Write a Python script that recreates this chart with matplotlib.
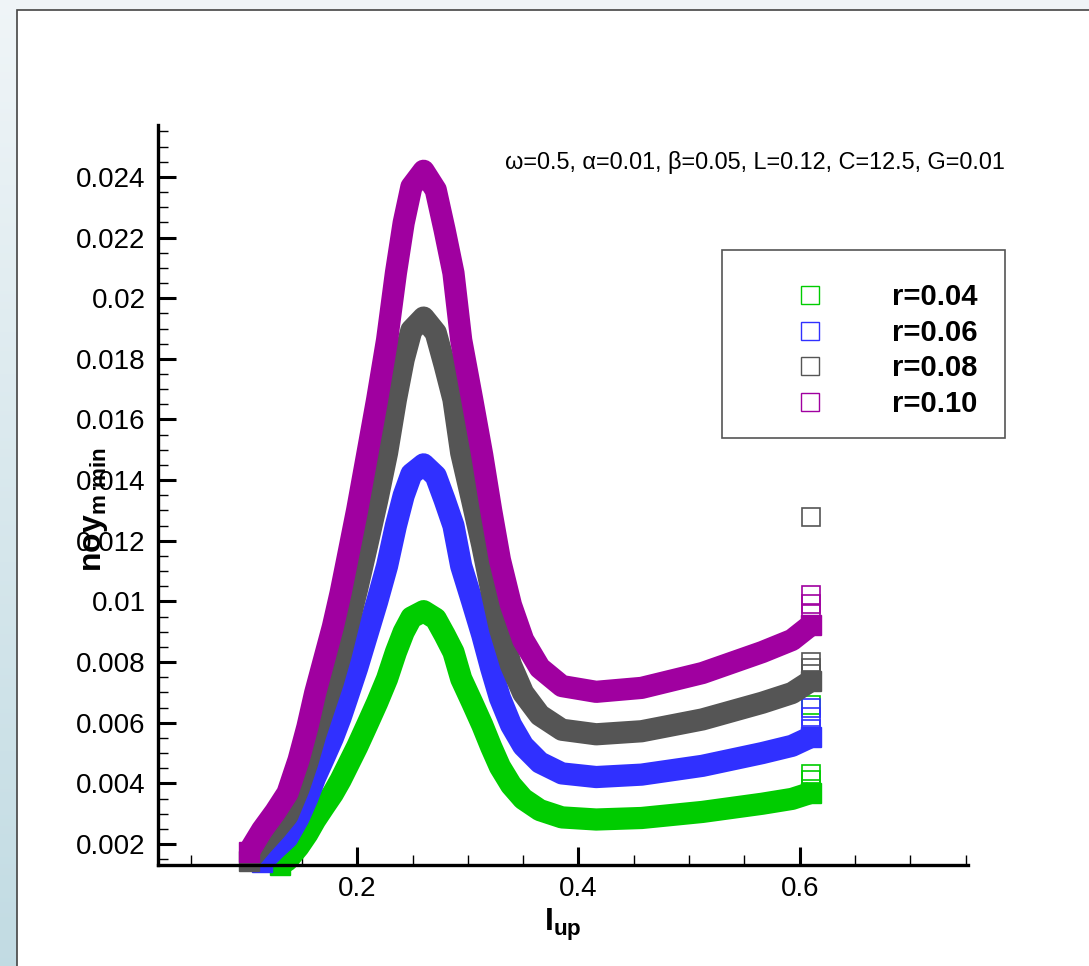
import numpy as np
import matplotlib
matplotlib.use('Agg')
import matplotlib.pyplot as plt
from matplotlib.lines import Line2D
from matplotlib.patches import Rectangle
from matplotlib.ticker import MultipleLocator, FuncFormatter

plt.rcParams['font.family'] = ['Liberation Sans', 'DejaVu Sans']
plt.rcParams['mathtext.fontset'] = 'custom'
plt.rcParams['mathtext.rm'] = 'Liberation Sans'
plt.rcParams['mathtext.bf'] = 'Liberation Sans:bold'

# curve points (centres of the square markers)
l_up_r10 = [0.102, 0.114, 0.126, 0.137, 0.147, 0.155, 0.162, 0.170, 0.178, 0.185,
            0.191, 0.200, 0.209, 0.218, 0.227, 0.235, 0.242, 0.249, 0.260, 0.271,
            0.279, 0.287, 0.294, 0.304, 0.313, 0.321, 0.329, 0.339, 0.350, 0.365,
            0.385, 0.416, 0.457, 0.512, 0.566, 0.593, 0.610]
y_r10 = [0.00174, 0.00246, 0.00306, 0.00368, 0.00477, 0.00586, 0.00698, 0.00807, 0.00916, 0.01028,
         0.01137, 0.01302, 0.01483, 0.01665, 0.01862, 0.02083, 0.02248, 0.02367, 0.02420, 0.02357,
         0.02225, 0.02083, 0.01862, 0.01665, 0.01483, 0.01302, 0.01137, 0.00988, 0.00873, 0.00781,
         0.00721, 0.00702, 0.00715, 0.00764, 0.00833, 0.00873, 0.00922]

l_up_r08 = l_up_r10
y_r08 = [0.00145, 0.00197, 0.00245, 0.00294, 0.00382, 0.00469, 0.00558, 0.00646, 0.00733, 0.00822,
         0.00910, 0.01042, 0.01186, 0.01332, 0.01490, 0.01666, 0.01798, 0.01894, 0.01936, 0.01886,
         0.01780, 0.01666, 0.01490, 0.01332, 0.01186, 0.01042, 0.00910, 0.00790, 0.00698, 0.00625,
         0.00577, 0.00562, 0.00572, 0.00611, 0.00666, 0.00698, 0.00738]

l_up_r06 = [0.114, 0.126, 0.137, 0.147, 0.155, 0.162, 0.170, 0.178, 0.185,
            0.191, 0.200, 0.209, 0.218, 0.227, 0.235, 0.242, 0.249, 0.260, 0.271,
            0.279, 0.287, 0.294, 0.304, 0.313, 0.321, 0.329, 0.339, 0.350, 0.365,
            0.385, 0.416, 0.457, 0.512, 0.566, 0.593, 0.610]
y_r06 = [0.00140, 0.00184, 0.00221, 0.00286, 0.00352, 0.00419, 0.00484, 0.00550, 0.00617,
         0.00682, 0.00781, 0.00890, 0.00999, 0.01117, 0.01250, 0.01349, 0.01420, 0.01452, 0.01414,
         0.01335, 0.01250, 0.01117, 0.00999, 0.00890, 0.00781, 0.00682, 0.00593, 0.00524, 0.00469,
         0.00433, 0.00421, 0.00429, 0.00458, 0.00500, 0.00524, 0.00553]

l_up_r04 = [0.130, 0.137, 0.147, 0.155, 0.162, 0.170, 0.178, 0.185,
            0.191, 0.200, 0.209, 0.218, 0.227, 0.235, 0.242, 0.249, 0.260, 0.271,
            0.279, 0.287, 0.294, 0.304, 0.313, 0.321, 0.329, 0.339, 0.350, 0.365,
            0.385, 0.416, 0.457, 0.512, 0.566, 0.593, 0.610]
y_r04 = [0.00130, 0.00147, 0.00191, 0.00234, 0.00279, 0.00323, 0.00366, 0.00411,
         0.00455, 0.00521, 0.00593, 0.00666, 0.00745, 0.00833, 0.00899, 0.00947, 0.00968, 0.00943,
         0.00890, 0.00833, 0.00745, 0.00666, 0.00593, 0.00521, 0.00455, 0.00395, 0.00349, 0.00312,
         0.00288, 0.00281, 0.00286, 0.00306, 0.00333, 0.00349, 0.00369]

# loose squares stacked at the right end (l_up = 0.61)
tail_l_up = 0.61
tail_r10 = [0.0096, 0.0099, 0.0102]
tail_r08 = [0.0076, 0.0078, 0.0080, 0.0128]
tail_r06 = [0.0058, 0.0062, 0.0065]
tail_r04 = [0.0038, 0.0041, 0.0043, 0.0066]

labels = ['r=0.04', 'r=0.06', 'r=0.08', 'r=0.10']
colors = ['#00cc00', '#3030ff', '#555555', '#a000a0']
series = [(l_up_r04, y_r04, tail_r04), (l_up_r06, y_r06, tail_r06),
          (l_up_r08, y_r08, tail_r08), (l_up_r10, y_r10, tail_r10)]

W, H = 1089, 966
fig = plt.figure(figsize=(W / 100, H / 100), dpi=100)

# page background: blue-grey gradient with a white framed sheet
bg = fig.add_axes([0, 0, 1, 1], zorder=-10)
bg.set_xlim(0, W)
bg.set_ylim(H, 0)
bg.axis('off')
top = np.array([0.94, 0.96, 0.97])
bot = np.array([0.76, 0.86, 0.89])
t = np.linspace(0, 1, 256)[:, None, None]
grad = (top + (bot - top) * t).reshape(256, 1, 3)
bg.imshow(grad, extent=[0, W, H, 0], aspect='auto')
bg.add_patch(Rectangle((17, 10), W, H, facecolor='white', edgecolor='#444444', lw=1.2))

ax = fig.add_axes([158 / W, 1 - 865 / H, 810 / W, 740 / H])
ax.patch.set_alpha(0)
for (xs, ys, tail), c in zip(series, colors):
    ax.plot(xs, ys, '-', color=c, lw=16, solid_joinstyle='round', solid_capstyle='butt',
            marker='s', ms=15, mfc=c, mec=c, markevery=[0, -1], clip_on=False)
    ax.plot(np.full(len(tail), tail_l_up), tail, ls='none', marker='s', ms=13,
            mfc='none', mec=c, mew=1.2, clip_on=False)

ax.set_xlim(0.02, 0.752)
ax.set_ylim(0.00131, 0.02571)
for s in ['top', 'right']:
    ax.spines[s].set_visible(False)
for s in ['left', 'bottom']:
    ax.spines[s].set_linewidth(2.4)
ax.xaxis.set_major_locator(MultipleLocator(0.2))
ax.xaxis.set_minor_locator(MultipleLocator(0.05))
ax.yaxis.set_major_locator(MultipleLocator(0.002))
ax.yaxis.set_minor_locator(MultipleLocator(0.0005))
ax.yaxis.set_major_formatter(FuncFormatter(lambda v, p: '%g' % round(v, 4)))
ax.xaxis.set_major_formatter(FuncFormatter(lambda v, p: '%g' % round(v, 3)))
ax.tick_params(which='major', direction='in', length=13, width=2.2, labelsize=20, pad=9)
ax.tick_params(which='minor', direction='in', length=7, width=1)
ax.tick_params(axis='x', which='major', pad=8)

ax.set_xlabel(r'$\mathbf{I}_{\mathbf{up}}$', fontsize=23, labelpad=3)
fig.text(95 / W, 1 - 510 / H, r'$\mathbf{noy}_{\mathbf{m\ min}}$', rotation=90,
         ha='center', va='center', fontsize=23)

fig.text(505 / W, 1 - 163 / H, u'\u03c9=0.5, \u03b1=0.01, \u03b2=0.05, L=0.12, C=12.5, G=0.01',
         ha='left', va='center', fontsize=16.9)

# legend
fig.add_artist(Rectangle((722 / W, 1 - 438 / H), 283 / W, 188 / H, transform=fig.transFigure,
                         facecolor='white', edgecolor='#555555', lw=1.2, zorder=5))
handles = [Line2D([], [], ls='none', marker='s', ms=13.5, mfc='none', mec=c, mew=1) for c in colors]
leg = fig.legend(handles, labels, loc='center left', bbox_to_anchor=(746 / W, 1 - 350.5 / H),
                 frameon=False, borderpad=0, borderaxespad=0, handlelength=4.4,
                 handletextpad=0.6, labelspacing=0.26, prop={'weight': 'bold', 'size': 21})
leg.set_zorder(6)

fig.savefig('out.png', dpi=100)
